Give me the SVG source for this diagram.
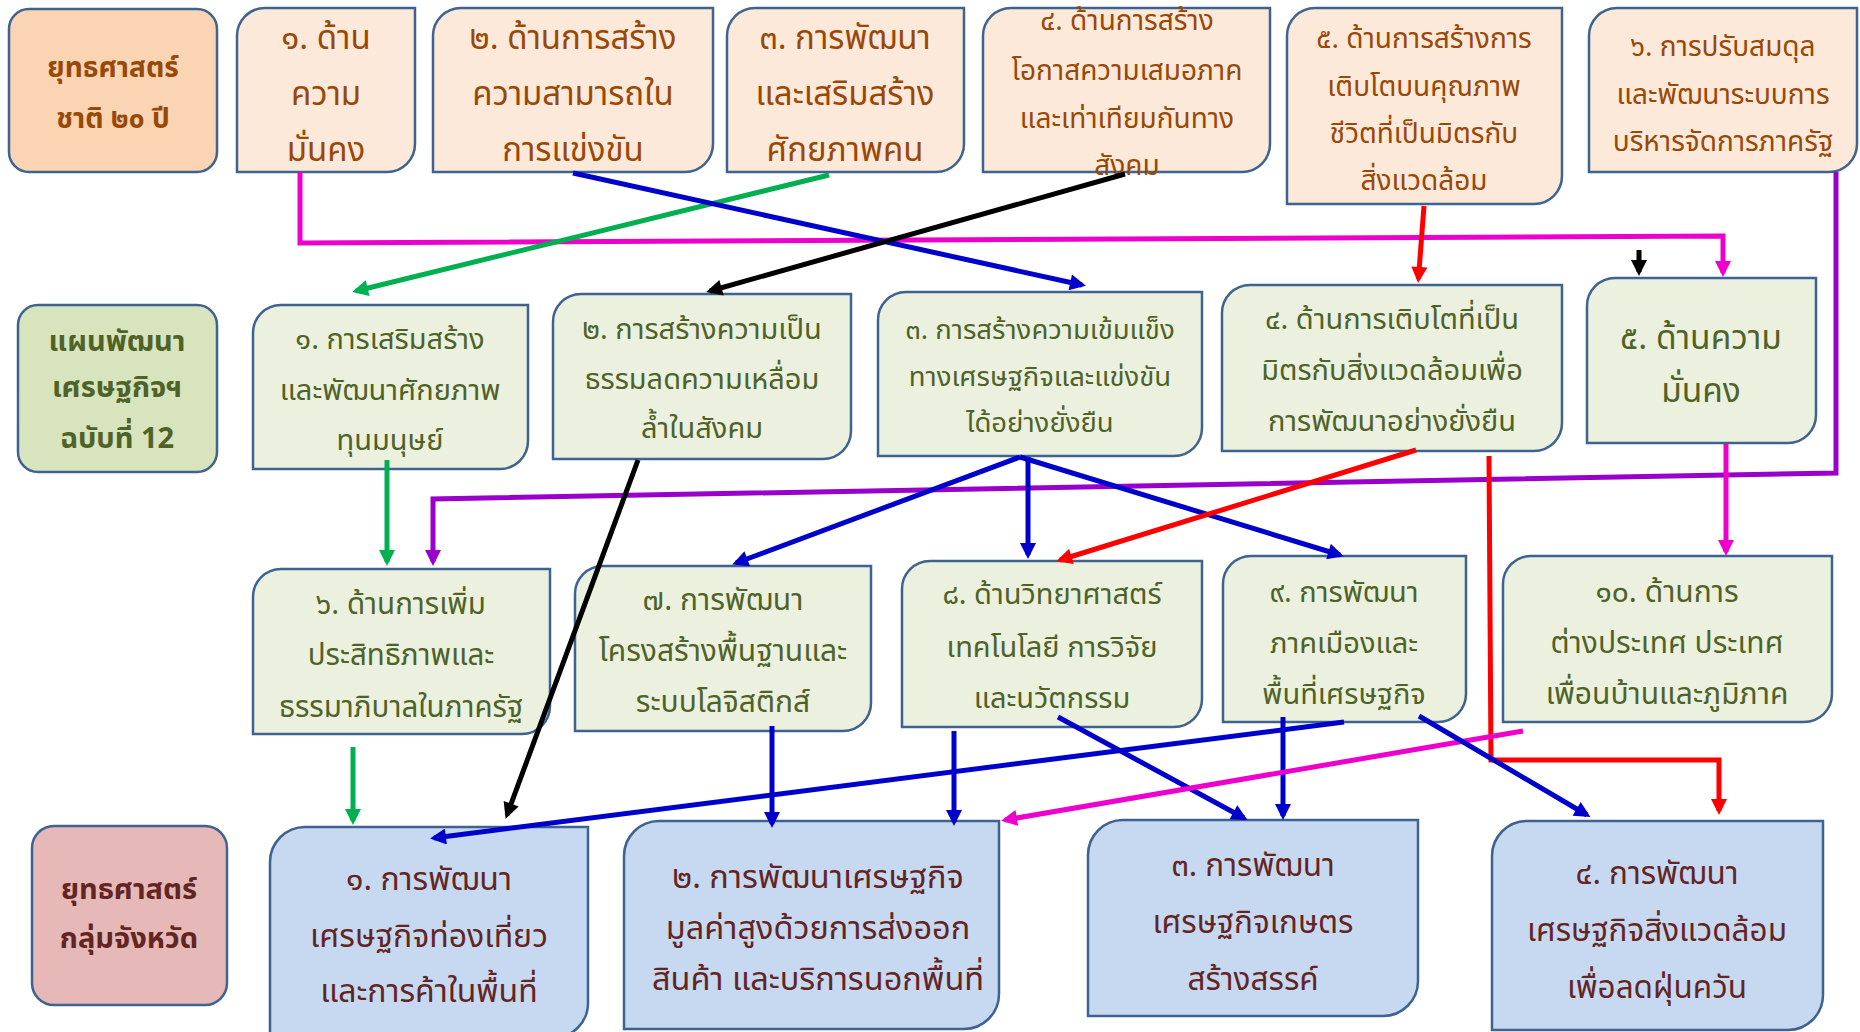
<svg xmlns="http://www.w3.org/2000/svg" width="1860" height="1032" viewBox="0 0 1860 1032">
<style>
.b{stroke:#3F6391;stroke-width:2.5}
.p1{fill:#FDE9D9}.l1{fill:#FBD4B4}
.p2{fill:#EBF1DE}.l2{fill:#D7E4BD}
.p4{fill:#C6D9F1}.l4{fill:#E6B9B8}
text{font-family:"Noto Sans Thai","Noto Sans","DejaVu Sans",sans-serif;text-anchor:middle;dominant-baseline:central}
.x1{fill:#984807;font-size:33px}
.x1s{fill:#984807;font-size:28px}
.x2{fill:#4F6228;font-size:29px}
.x4{fill:#632523;font-size:32px}
.bold{font-weight:bold}
.c{fill:none;stroke-width:5;stroke-linejoin:miter}
</style>
<defs>
<marker id="mB" viewBox="0 0 10 10" refX="7.5" refY="5" markerUnits="userSpaceOnUse" markerWidth="18" markerHeight="16" orient="auto"><path d="M0,0 L10,5 L0,10 z" fill="#0000CC"/></marker>
<marker id="mG" viewBox="0 0 10 10" refX="7.5" refY="5" markerUnits="userSpaceOnUse" markerWidth="18" markerHeight="16" orient="auto"><path d="M0,0 L10,5 L0,10 z" fill="#00B050"/></marker>
<marker id="mR" viewBox="0 0 10 10" refX="7.5" refY="5" markerUnits="userSpaceOnUse" markerWidth="18" markerHeight="16" orient="auto"><path d="M0,0 L10,5 L0,10 z" fill="#FF0000"/></marker>
<marker id="mK" viewBox="0 0 10 10" refX="7.5" refY="5" markerUnits="userSpaceOnUse" markerWidth="18" markerHeight="16" orient="auto"><path d="M0,0 L10,5 L0,10 z" fill="#000000"/></marker>
<marker id="mM" viewBox="0 0 10 10" refX="7.5" refY="5" markerUnits="userSpaceOnUse" markerWidth="18" markerHeight="16" orient="auto"><path d="M0,0 L10,5 L0,10 z" fill="#EE00CC"/></marker>
<marker id="mP" viewBox="0 0 10 10" refX="7.5" refY="5" markerUnits="userSpaceOnUse" markerWidth="18" markerHeight="16" orient="auto"><path d="M0,0 L10,5 L0,10 z" fill="#9900CC"/></marker>
</defs>
<rect width="1860" height="1032" fill="#FFFFFF"/>

<g id="national-label"><rect class="b l1" x="9" y="9" width="208" height="163" rx="20"/>
<text class="x1s bold" x="113" y="68">ยุทธศาสตร์</text><text class="x1s bold" x="113" y="119">ชาติ ๒๐ ปี</text></g>
<g id="n1"><path class="b p1" d="M265,8 H415 V144 A28,28 0 0 1 387,172 H237 V36 A28,28 0 0 1 265,8 Z"/>
<text class="x1" x="326" y="39">๑. ด้าน</text><text class="x1" x="326" y="95">ความ</text><text class="x1" x="326" y="151">มั่นคง</text></g>
<g id="n2"><path class="b p1" d="M461,8 H713 V144 A28,28 0 0 1 685,172 H433 V36 A28,28 0 0 1 461,8 Z"/>
<text class="x1" x="573" y="39">๒. ด้านการสร้าง</text><text class="x1" x="573" y="95">ความสามารถใน</text><text class="x1" x="573" y="151">การแข่งขัน</text></g>
<g id="n3"><path class="b p1" d="M755,8 H964 V144 A28,28 0 0 1 936,172 H727 V36 A28,28 0 0 1 755,8 Z"/>
<text class="x1" x="845" y="39">๓. การพัฒนา</text><text class="x1" x="845" y="95">และเสริมสร้าง</text><text class="x1" x="845" y="151">ศักยภาพคน</text></g>
<g id="n4"><path class="b p1" d="M1011,8 H1270 V144 A28,28 0 0 1 1242,172 H983 V36 A28,28 0 0 1 1011,8 Z"/>
<text class="x1s" x="1127" y="21">๔. ด้านการสร้าง</text><text class="x1s" x="1127" y="71">โอกาสความเสมอภาค</text><text class="x1s" x="1127" y="119">และเท่าเทียมกันทาง</text><text class="x1s" x="1127" y="166">สังคม</text></g>
<g id="n5"><path class="b p1" d="M1315,8 H1562 V176 A28,28 0 0 1 1534,204 H1287 V36 A28,28 0 0 1 1315,8 Z"/>
<text class="x1s" x="1424" y="39">๕. ด้านการสร้างการ</text><text class="x1s" x="1424" y="87">เติบโตบนคุณภาพ</text><text class="x1s" x="1424" y="134">ชีวิตที่เป็นมิตรกับ</text><text class="x1s" x="1424" y="181">สิ่งแวดล้อม</text></g>
<g id="n6"><path class="b p1" d="M1617,8 H1857 V144 A28,28 0 0 1 1829,172 H1589 V36 A28,28 0 0 1 1617,8 Z"/>
<text class="x1s" x="1723" y="47">๖. การปรับสมดุล</text><text class="x1s" x="1723" y="95">และพัฒนาระบบการ</text><text class="x1s" x="1723" y="142">บริหารจัดการภาครัฐ</text></g>

<g id="plan-label"><rect class="b l2" x="18" y="305" width="199" height="167" rx="20"/>
<text class="x2 bold" x="117" y="342" font-size="28.5">แผนพัฒนา</text><text class="x2 bold" x="117" y="388" font-size="28.5">เศรษฐกิจฯ</text><text class="x2 bold" x="117" y="439" font-size="28.5">ฉบับที่ 12</text></g>
<g id="p1"><path class="b p2" d="M281,305 H528 V441 A28,28 0 0 1 500,469 H253 V333 A28,28 0 0 1 281,305 Z"/>
<text class="x2" x="390" y="340">๑. การเสริมสร้าง</text><text class="x2" x="390" y="391">และพัฒนาศักยภาพ</text><text class="x2" x="390" y="441">ทุนมนุษย์</text></g>
<g id="p2"><path class="b p2" d="M581,294 H851 V431 A28,28 0 0 1 823,459 H553 V322 A28,28 0 0 1 581,294 Z"/>
<text class="x2" x="702" y="330">๒. การสร้างความเป็น</text><text class="x2" x="702" y="380">ธรรมลดความเหลื่อม</text><text class="x2" x="702" y="429">ล้ำในสังคม</text></g>
<g id="p3"><path class="b p2" d="M906,292 H1202 V428 A28,28 0 0 1 1174,456 H878 V320 A28,28 0 0 1 906,292 Z"/>
<text class="x2" x="1040" y="330" style="font-size:27.5px">๓. การสร้างความเข้มแข็ง</text><text class="x2" x="1040" y="377" style="font-size:27.5px">ทางเศรษฐกิจและแข่งขัน</text><text class="x2" x="1040" y="423" style="font-size:27.5px">ได้อย่างยั่งยืน</text></g>
<g id="p4"><path class="b p2" d="M1250,285 H1562 V423 A28,28 0 0 1 1534,451 H1222 V313 A28,28 0 0 1 1250,285 Z"/>
<text class="x2" x="1392" y="320">๔. ด้านการเติบโตที่เป็น</text><text class="x2" x="1392" y="371">มิตรกับสิ่งแวดล้อมเพื่อ</text><text class="x2" x="1392" y="422">การพัฒนาอย่างยั่งยืน</text></g>
<g id="p5"><path class="b p2" d="M1615,278 H1816 V415 A28,28 0 0 1 1788,443 H1587 V306 A28,28 0 0 1 1615,278 Z"/>
<text class="x2" x="1701" y="338" style="font-size:33.5px">๕. ด้านความ</text><text class="x2" x="1701" y="391" style="font-size:33.5px">มั่นคง</text></g>
<g id="p6"><path class="b p2" d="M281,569 H550 V706 A28,28 0 0 1 522,734 H253 V597 A28,28 0 0 1 281,569 Z"/>
<text class="x2" x="401" y="605" style="font-size:29.5px">๖. ด้านการเพิ่ม</text><text class="x2" x="401" y="656" style="font-size:29.5px">ประสิทธิภาพและ</text><text class="x2" x="401" y="708" style="font-size:29.5px">ธรรมาภิบาลในภาครัฐ</text></g>
<g id="p7"><path class="b p2" d="M603,566 H871 V703 A28,28 0 0 1 843,731 H575 V594 A28,28 0 0 1 603,566 Z"/>
<text class="x2" x="723" y="601" style="font-size:30px">๗. การพัฒนา</text><text class="x2" x="723" y="652" style="font-size:30px">โครงสร้างพื้นฐานและ</text><text class="x2" x="723" y="703" style="font-size:30px">ระบบโลจิสติกส์</text></g>
<g id="p8"><path class="b p2" d="M930,561 H1202 V699 A28,28 0 0 1 1174,727 H902 V589 A28,28 0 0 1 930,561 Z"/>
<text class="x2" x="1052" y="595">๘. ด้านวิทยาศาสตร์</text><text class="x2" x="1052" y="648">เทคโนโลยี การวิจัย</text><text class="x2" x="1052" y="699">และนวัตกรรม</text></g>
<g id="p9"><path class="b p2" d="M1251,556 H1466 V694 A28,28 0 0 1 1438,722 H1223 V584 A28,28 0 0 1 1251,556 Z"/>
<text class="x2" x="1344" y="593">๙. การพัฒนา</text><text class="x2" x="1344" y="644">ภาคเมืองและ</text><text class="x2" x="1344" y="695">พื้นที่เศรษฐกิจ</text></g>
<g id="p10"><path class="b p2" d="M1531,556 H1832 V694 A28,28 0 0 1 1804,722 H1503 V584 A28,28 0 0 1 1531,556 Z"/>
<text class="x2" x="1667" y="593" style="font-size:30px">๑๐. ด้านการ</text><text class="x2" x="1667" y="644" style="font-size:30px">ต่างประเทศ ประเทศ</text><text class="x2" x="1667" y="695" style="font-size:30px">เพื่อนบ้านและภูมิภาค</text></g>

<g id="group-label"><rect class="b l4" x="32" y="826" width="195" height="179" rx="22"/>
<text class="x4 bold" x="129" y="890" style="font-size:29px">ยุทธศาสตร์</text><text class="x4 bold" x="129" y="939" style="font-size:29px">กลุ่มจังหวัด</text></g>
<g id="g1"><path class="b p4" d="M305,827 H588 V1003 A35,35 0 0 1 553,1038 H270 V862 A35,35 0 0 1 305,827 Z"/>
<text class="x4" x="429" y="880">๑. การพัฒนา</text><text class="x4" x="429" y="937">เศรษฐกิจท่องเที่ยว</text><text class="x4" x="429" y="992">และการค้าในพื้นที่</text></g>
<g id="g2"><path class="b p4" d="M659,821 H999 V994 A35,35 0 0 1 964,1029 H624 V856 A35,35 0 0 1 659,821 Z"/>
<text class="x4" x="818" y="878" style="font-size:32.5px">๒. การพัฒนาเศรษฐกิจ</text><text class="x4" x="818" y="929" style="font-size:32.5px">มูลค่าสูงด้วยการส่งออก</text><text class="x4" x="818" y="980" style="font-size:32.5px">สินค้า และบริการนอกพื้นที่</text></g>
<g id="g3"><path class="b p4" d="M1123,820 H1418 V981 A35,35 0 0 1 1383,1016 H1088 V855 A35,35 0 0 1 1123,820 Z"/>
<text class="x4" x="1253" y="866" style="font-size:31.5px">๓. การพัฒนา</text><text class="x4" x="1253" y="923" style="font-size:31.5px">เศรษฐกิจเกษตร</text><text class="x4" x="1253" y="980" style="font-size:31.5px">สร้างสรรค์</text></g>
<g id="g4"><path class="b p4" d="M1527,821 H1823 V995 A35,35 0 0 1 1788,1030 H1492 V856 A35,35 0 0 1 1527,821 Z"/>
<text class="x4" x="1657" y="874" style="font-size:31.5px">๔. การพัฒนา</text><text class="x4" x="1657" y="931" style="font-size:31.5px">เศรษฐกิจสิ่งแวดล้อม</text><text class="x4" x="1657" y="988" style="font-size:31.5px">เพื่อลดฝุ่นควัน</text></g>

<g id="connectors">
<polyline class="c" stroke="#EE00CC" points="300,172 300,243 1723,236 1723,273" marker-end="url(#mM)"/>
<line class="c" stroke="#00B050" x1="829" y1="175" x2="356" y2="291" marker-end="url(#mG)"/>
<line class="c" stroke="#0000CC" x1="573" y1="173" x2="1082" y2="285" marker-end="url(#mB)"/>
<line class="c" stroke="#000000" x1="1125" y1="174" x2="710" y2="291" marker-end="url(#mK)"/>
<line class="c" stroke="#FF0000" x1="1424" y1="206" x2="1418.4" y2="279" marker-end="url(#mR)"/>
<line class="c" stroke="#000000" x1="1639" y1="250" x2="1639" y2="272" marker-end="url(#mK)"/>
<polyline class="c" stroke="#9900CC" points="1836,172 1836,473 433,499 433,562" marker-end="url(#mP)"/>
<line class="c" stroke="#00B050" x1="387" y1="460" x2="387" y2="562" marker-end="url(#mG)"/>
<line class="c" stroke="#000000" x1="638" y1="460" x2="507" y2="815" marker-end="url(#mK)"/>
<line class="c" stroke="#0000CC" x1="1020" y1="457" x2="736" y2="563" marker-end="url(#mB)"/>
<line class="c" stroke="#0000CC" x1="1028" y1="457" x2="1028" y2="555" marker-end="url(#mB)"/>
<line class="c" stroke="#0000CC" x1="1020" y1="457" x2="1340" y2="555" marker-end="url(#mB)"/>
<line class="c" stroke="#FF0000" x1="1416" y1="450" x2="1060" y2="560" marker-end="url(#mR)"/>
<polyline class="c" stroke="#FF0000" points="1489,456 1491,760 1719,760 1719,811" marker-end="url(#mR)"/>
<line class="c" stroke="#EE00CC" x1="1726" y1="444" x2="1726" y2="552" marker-end="url(#mM)"/>
<line class="c" stroke="#00B050" x1="353" y1="747" x2="353" y2="821" marker-end="url(#mG)"/>
<line class="c" stroke="#0000CC" x1="772" y1="726" x2="772" y2="824" marker-end="url(#mB)"/>
<line class="c" stroke="#0000CC" x1="954" y1="731" x2="954" y2="822" marker-end="url(#mB)"/>
<line class="c" stroke="#0000CC" x1="1344" y1="722" x2="434" y2="838" marker-end="url(#mB)"/>
<line class="c" stroke="#0000CC" x1="1058" y1="717" x2="1244" y2="818" marker-end="url(#mB)"/>
<line class="c" stroke="#0000CC" x1="1283" y1="717" x2="1283" y2="816" marker-end="url(#mB)"/>
<line class="c" stroke="#EE00CC" x1="1523" y1="731" x2="1005" y2="820" marker-end="url(#mM)"/>
<line class="c" stroke="#0000CC" x1="1419" y1="716" x2="1587" y2="815" marker-end="url(#mB)"/>
</g>
</svg>
